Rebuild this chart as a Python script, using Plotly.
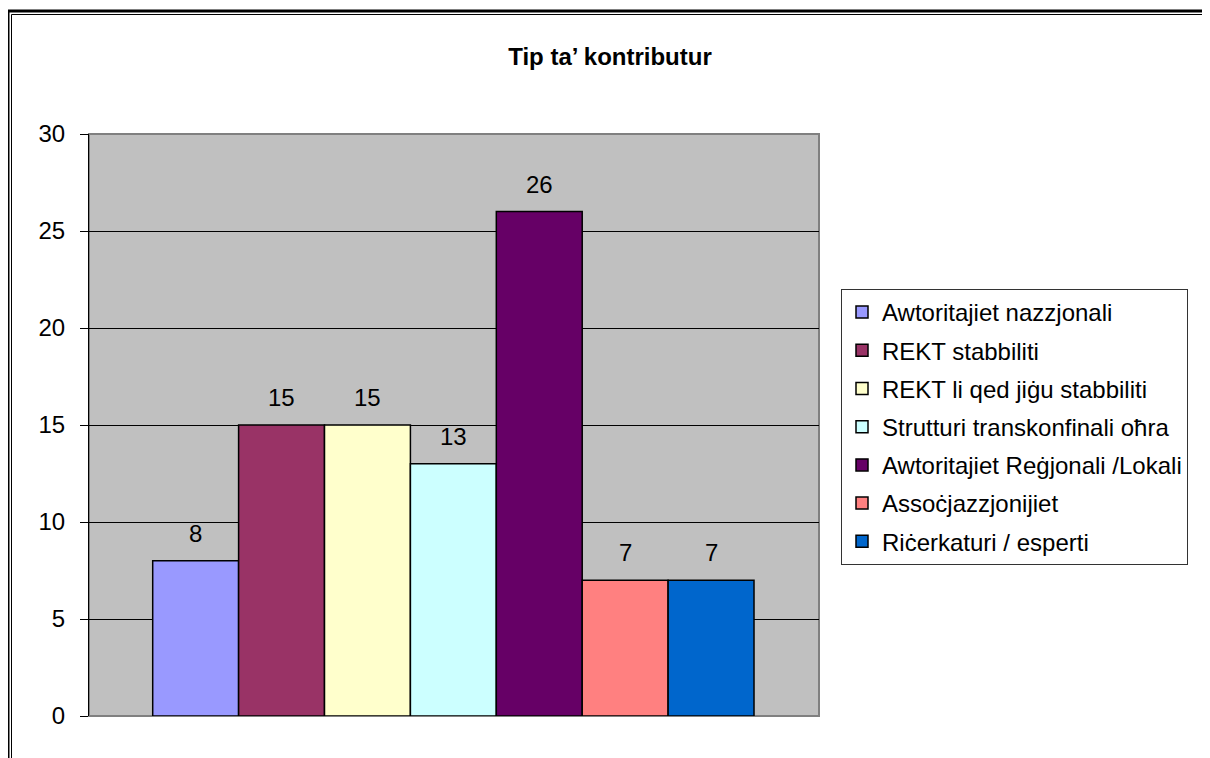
import plotly.graph_objects as go

title_text = "Tip ta\u2019 kontributur"
series_names = [
    "Awtoritajiet nazzjonali",
    "REKT stabbiliti",
    "REKT li qed jiġu stabbiliti",
    "Strutturi transkonfinali oħra",
    "Awtoritajiet Reġjonali /Lokali",
    "Assoċjazzjonijiet",
    "Riċerkaturi / esperti",
]
series_values = [8, 15, 15, 13, 26, 7, 7]
series_colors = ["#9999FF", "#993366", "#FFFFCC", "#CCFFFF", "#660066", "#FF8080", "#0066CC"]
y_ticks = [0, 5, 10, 15, 20, 25, 30]

OFF = 8  # default body margin of the html page
W, H = 1210 - OFF, 758 - OFF
# plot area in screen pixels
SL, SR, ST, SB = 89, 819, 134, 716
L, R, T, B = SL - OFF, SR - OFF, ST - OFF, SB - OFF
FONT = "Liberation Sans, Arial, sans-serif"
FS = 24


def px(xs):
    return (xs - SL) / (SR - SL)


def py(ys):
    return (SB - ys) / (SB - ST)


fig = go.Figure()
for i, (name, val, col) in enumerate(zip(series_names, series_values, series_colors)):
    fig.add_trace(go.Bar(
        x=[i], y=[val], name=name, width=1,
        marker=dict(color=col, line=dict(color="black", width=1.5)),
        legendgroup=name,
        hoverinfo="skip",
    ))
    fig.add_annotation(
        x=i, y=val, xref="x", yref="y", text=str(val), showarrow=False,
        yanchor="bottom", yshift=12, font=dict(family=FONT, size=FS, color="black"),
    )

shapes = [
    dict(type="rect", xref="paper", yref="paper", x0=0, x1=1, y0=0, y1=1,
         line=dict(color="#808080", width=2), layer="below"),
    dict(type="rect", xref="paper", yref="paper", x0=px(8), x1=px(1216), y0=py(780), y1=py(11),
         line=dict(color="black", width=3), layer="above"),
    dict(type="rect", xref="paper", yref="paper", x0=px(11.5), x1=px(1209.5), y0=py(780), y1=py(14.5),
         line=dict(color="black", width=1), layer="above"),
]

fig.update_layout(
    width=W, height=H,
    margin=dict(l=L, r=W - R, t=T, b=H - B, pad=0),
    paper_bgcolor="white",
    plot_bgcolor="#C0C0C0",
    barmode="overlay",
    font=dict(family=FONT, size=FS, color="black"),
    title=dict(text="<b>" + title_text + "</b>", x=(610 - OFF) / W, xref="container", xanchor="center",
               y=1 - (57 - OFF) / H, yref="container", yanchor="middle",
               font=dict(family=FONT, size=FS, color="black")),
    xaxis=dict(range=[-1.2416, 7.2566], showticklabels=False, ticks="", showgrid=False,
               zeroline=False, showline=False, fixedrange=True),
    yaxis=dict(range=[0, 30], tickmode="array", tickvals=y_ticks, ticktext=[str(v) for v in y_ticks],
               ticks="outside", ticklen=8, tickcolor="black", tickwidth=1,
               ticklabelstandoff=10,
               showgrid=True, gridcolor="black", gridwidth=1, zeroline=False,
               showline=True, linecolor="black", linewidth=1,
               tickfont=dict(family=FONT, size=FS, color="black"), fixedrange=True),
    legend=dict(x=px(841), y=py(289), xanchor="left", yanchor="top",
                bgcolor="white", bordercolor="#333333", borderwidth=1,
                font=dict(family=FONT, size=FS, color="black"),
                tracegroupgap=4, itemwidth=30, traceorder="grouped"),
    shapes=shapes,
    showlegend=True,
)

fig.write_html("out.html")
